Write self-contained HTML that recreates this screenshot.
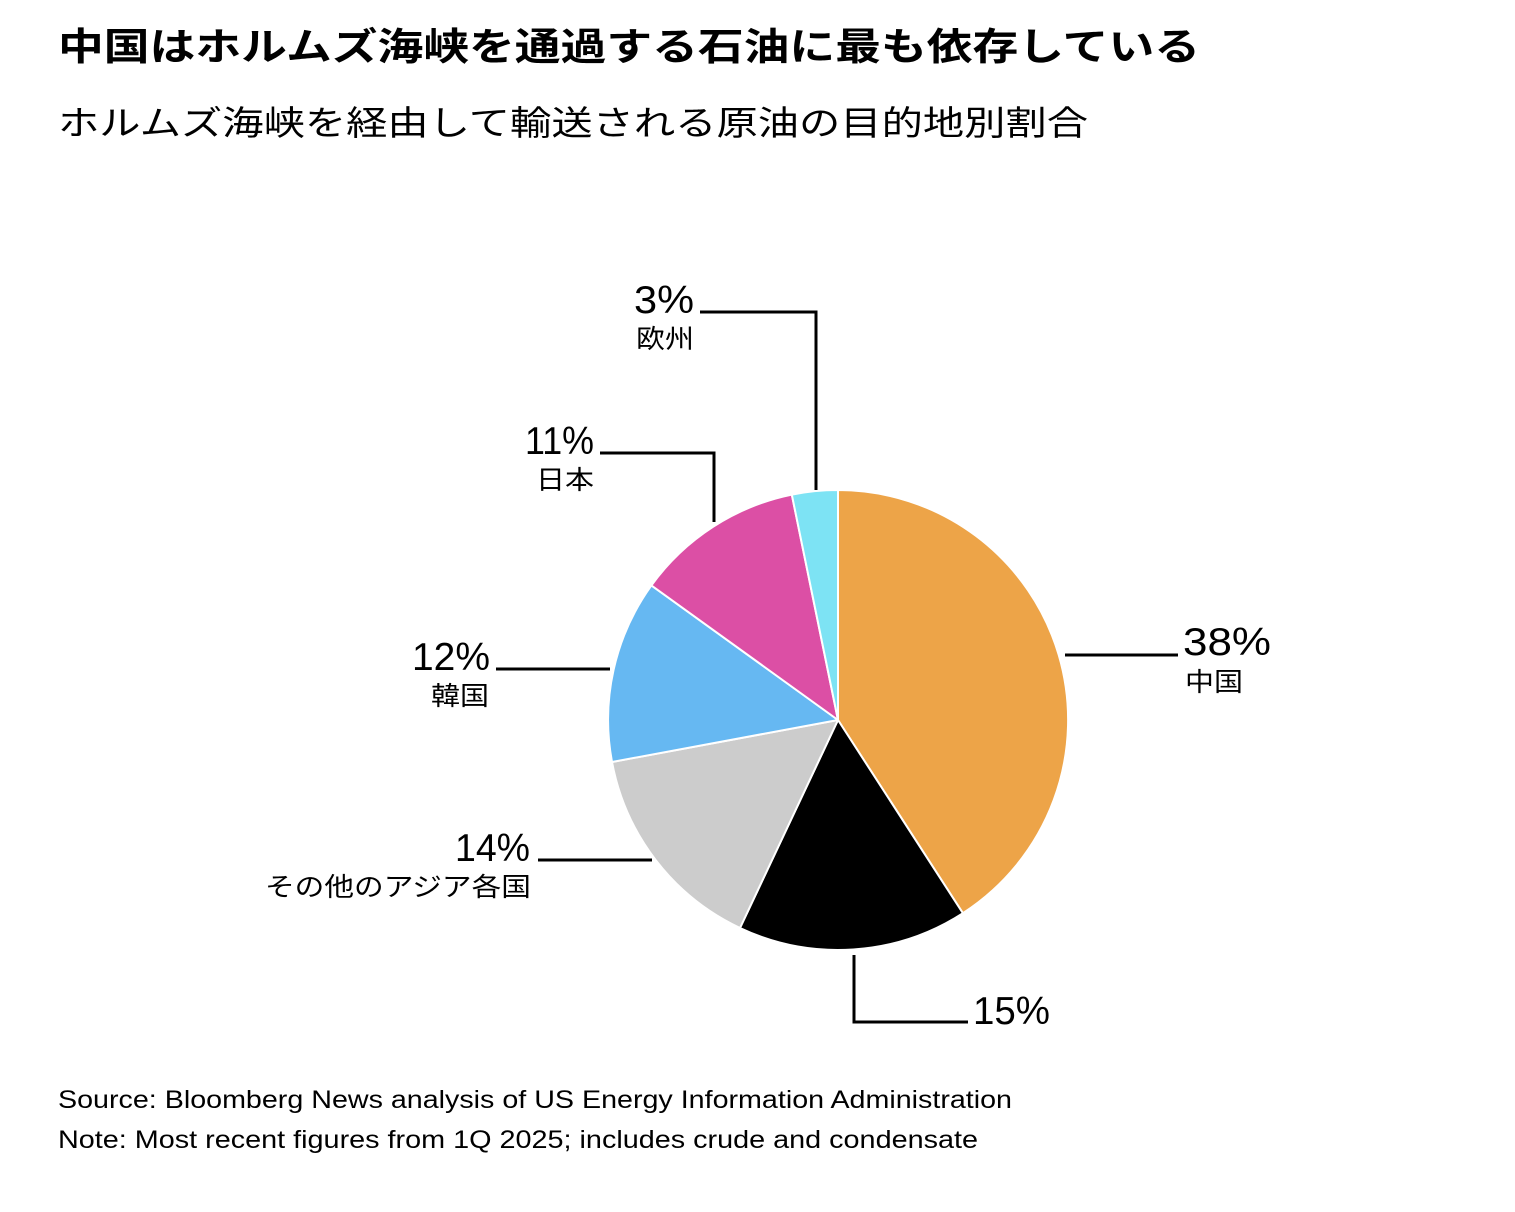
<!DOCTYPE html>
<html><head><meta charset="utf-8"><style>
html,body{margin:0;padding:0;background:#fff;}
body{width:1515px;height:1207px;overflow:hidden;font-family:"Liberation Sans","Noto Sans CJK JP",sans-serif;}
</style></head><body>
<svg width="1515" height="1207" xmlns="http://www.w3.org/2000/svg" style="font-family:'Liberation Sans','Noto Sans CJK JP',sans-serif">
<text x="58" y="60" font-size="38" font-weight="bold" fill="#000" textLength="1142" lengthAdjust="spacingAndGlyphs">中国はホルムズ海峡を通過する石油に最も依存している</text>
<text x="58" y="135" font-size="34" fill="#000" textLength="1030" lengthAdjust="spacingAndGlyphs">ホルムズ海峡を経由して輸送される原油の目的地別割合</text>
<g stroke="#fff" stroke-width="2" stroke-linejoin="round">
<path d="M838,720 L838,490 A230,230 0 0 1 962.9,913.2 Z" fill="#eda448"/>
<path d="M838,720 L962.9,913.2 A230,230 0 0 1 740,928 Z" fill="#000"/>
<path d="M838,720 L740,928 A230,230 0 0 1 612,762 Z" fill="#cccccc"/>
<path d="M838,720 L612,762 A230,230 0 0 1 651.4,585.4 Z" fill="#66b8f2"/>
<path d="M838,720 L651.4,585.4 A230,230 0 0 1 791.8,494.6 Z" fill="#dc4fa5"/>
<path d="M838,720 L791.8,494.6 A230,230 0 0 1 838,490 Z" fill="#7de3f4"/>
</g>
<g stroke="#000" stroke-width="3" fill="none">
<polyline points="1065,655 1178,655"/>
<polyline points="854,955 854,1022 968,1022"/>
<polyline points="538,860 652,860"/>
<polyline points="496,669 610,669"/>
<polyline points="600,453 714,453 714,522"/>
<polyline points="700,312 816,312 816,490"/>
</g>
<g font-size="39" fill="#000" lengthAdjust="spacingAndGlyphs">
<text x="1183" y="655" textLength="88" lengthAdjust="spacingAndGlyphs">38%</text>
<text x="973" y="1024" textLength="77" lengthAdjust="spacingAndGlyphs">15%</text>
<text x="455" y="861" textLength="75" lengthAdjust="spacingAndGlyphs">14%</text>
<text x="412" y="670" textLength="78" lengthAdjust="spacingAndGlyphs">12%</text>
<text x="525" y="454" textLength="69" lengthAdjust="spacingAndGlyphs">11%</text>
<text x="634" y="313" textLength="60" lengthAdjust="spacingAndGlyphs">3%</text>
</g>
<g font-size="26" fill="#000">
<text x="1185" y="691" textLength="58" lengthAdjust="spacingAndGlyphs">中国</text>
<text x="265" y="896" textLength="266" lengthAdjust="spacingAndGlyphs">その他のアジア各国</text>
<text x="431" y="705" textLength="58" lengthAdjust="spacingAndGlyphs">韓国</text>
<text x="536" y="489" textLength="58" lengthAdjust="spacingAndGlyphs">日本</text>
<text x="636" y="348" textLength="58" lengthAdjust="spacingAndGlyphs">欧州</text>
</g>
<text x="58" y="1108" font-size="25" fill="#000" textLength="954" lengthAdjust="spacingAndGlyphs">Source: Bloomberg News analysis of US Energy Information Administration</text>
<text x="58" y="1148" font-size="25" fill="#000" textLength="920" lengthAdjust="spacingAndGlyphs">Note: Most recent figures from 1Q 2025; includes crude and condensate</text>
</svg>
</body></html>
